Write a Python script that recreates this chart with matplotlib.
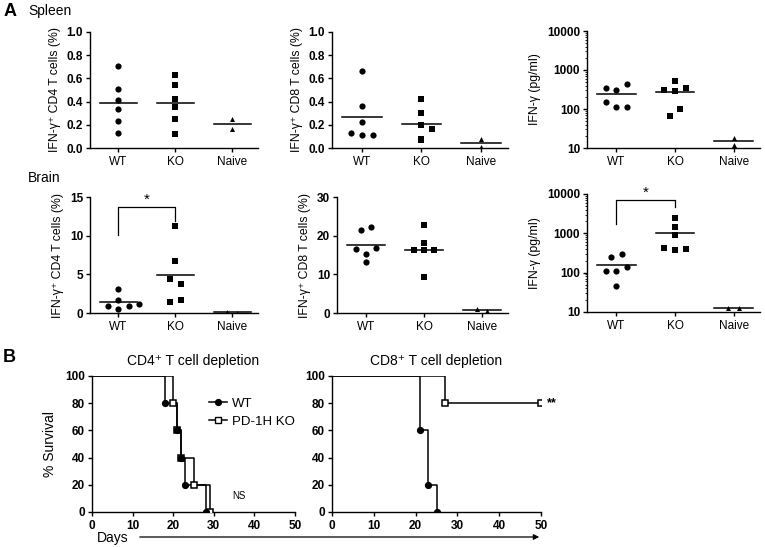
import numpy as np
import matplotlib
matplotlib.use("Agg")
import matplotlib.pyplot as plt
from matplotlib.lines import Line2D

plt.rcParams['font.family'] = ['Liberation Sans', 'DejaVu Sans']

groups = ["WT", "KO", "Naive"]

# panel A, spleen
spleen_cd4 = [[0.71, 0.51, 0.41, 0.34, 0.23, 0.13],
              [0.63, 0.54, 0.42, 0.35, 0.25, 0.12],
              [0.25, 0.16]]
spleen_cd4_mean = [0.39, 0.385, 0.21]
spleen_cd8 = [[0.66, 0.36, 0.22, 0.13, 0.11, 0.11],
              [0.42, 0.30, 0.20, 0.16, 0.08, 0.07],
              [0.08, 0.01]]
spleen_cd8_mean = [0.265, 0.205, 0.045]
spleen_ifn = [[352, 301, 446, 154, 110, 110],
              [313, 523, 295, 345, 98, 67],
              [18, 12]]
spleen_ifn_mean = [243, 276, 15.4]

# panel A, brain
brain_cd4 = [[3.1, 1.73, 0.95, 0.52, 0.95, 1.13],
             [11.2, 6.76, 4.42, 3.77, 1.39, 1.65],
             [0.1, 0.05]]
brain_cd4_mean = [1.39, 4.85, 0.1]
brain_cd8 = [[21.5, 22.2, 16.5, 15.3, 16.9, 13.1],
             [22.7, 18.1, 16.2, 16.2, 16.4, 9.4],
             [1.0, 0.6]]
brain_cd8_mean = [17.6, 16.4, 0.8]
brain_ifn = [[243, 295, 138, 111, 111, 47],
             [2490, 1440, 900, 428, 388, 404],
             [12.9, 12.9]]
brain_ifn_mean = [158, 1012, 12.9]

# horizontal spread of the dots (category units)
jit_spleen_cd4 = [[0, 0, 0, 0, 0, 0], [0, 0, 0, 0, 0, 0], [0, 0]]
jit_spleen_cd8 = [[0, 0, 0, -0.18, 0, 0.18], [0, 0, 0, 0.18, 0, 0], [0, 0]]
jit_spleen_ifn = [[-0.18, 0, 0.18, -0.18, 0, 0.18], [-0.18, 0, 0, 0.18, 0.09, -0.09], [0, 0]]
jit_brain_cd4 = [[0, 0, -0.18, 0, 0.18, 0.36], [0, 0, -0.09, 0.09, -0.09, 0.09], [-0.09, 0.09]]
jit_brain_cd8 = [[-0.09, 0.09, -0.18, 0, 0.18, 0], [0, 0, -0.18, 0, 0.18, 0], [-0.09, 0.09]]
jit_brain_ifn = [[-0.09, 0.09, 0.18, -0.18, 0, 0], [0, 0, 0, -0.18, 0, 0.18], [-0.09, 0.09]]

# panel B, survival
cd4_wt_days = [0, 18, 21, 22, 23, 28]
cd4_wt_surv = [100, 80, 60, 40, 20, 0]
cd4_ko_days = [0, 20, 21, 22, 25, 29]
cd4_ko_surv = [100, 80, 60, 40, 20, 0]
cd8_wt_days = [0, 21, 23, 25]
cd8_wt_surv = [100, 60, 20, 0]
cd8_ko_days = [0, 27, 50]
cd8_ko_surv = [100, 80, 80]

W, H = 765, 547
fig = plt.figure(figsize=(W / 100, H / 100), dpi=100)


def add_ax(left, top, right, bottom):
    return fig.add_axes([left / W, 1 - bottom / H, (right - left) / W, (bottom - top) / H])


def style(ax):
    for s in ["top", "right"]:
        ax.spines[s].set_visible(False)
    for s in ["left", "bottom"]:
        ax.spines[s].set_linewidth(1.0)
    ax.tick_params(axis="y", labelsize=8.5, width=1, length=3, pad=2)
    ax.tick_params(axis="x", labelsize=8.5, width=1, length=3, pad=3)
    for t in ax.get_yticklabels():
        t.set_fontweight("bold")


markers = ["o", "s", "^"]


def dot_panel(ax, vals, means, jit, ylabel, log=False):
    for i, (v, m, j) in enumerate(zip(vals, means, jit)):
        ms = 20 if i < 2 else 13
        ax.scatter(np.array(j) + i, v, marker=markers[i], s=ms, color="black",
                   linewidths=0, zorder=3)
        ax.plot([i - 0.33, i + 0.33], [m, m], color="black", lw=1.1, zorder=2)
    ax.set_xticks(range(3))
    ax.set_xticklabels(groups)
    ax.set_xlim(-0.5, 2.45)
    ax.set_ylabel(ylabel, fontsize=8.8, labelpad=4)
    if log:
        ax.set_yscale("log")
        ax.set_ylim(10, 10000)
        ax.set_yticks([10, 100, 1000, 10000])
        ax.set_yticklabels(["10", "100", "1000", "10000"])
        ax.tick_params(axis="y", which="minor", length=1.5, width=0.6)
    style(ax)


ax1 = add_ax(90, 32, 258, 148)
dot_panel(ax1, spleen_cd4, spleen_cd4_mean, jit_spleen_cd4, "IFN-γ⁺ CD4 T cells (%)")
ax1.set_ylim(0, 1.0)
ax1.set_yticks(np.arange(0, 1.01, 0.2))
ax1.set_yticklabels(["0.0", "0.2", "0.4", "0.6", "0.8", "1.0"], fontweight="bold")

ax2 = add_ax(332, 32, 508, 148)
dot_panel(ax2, spleen_cd8, spleen_cd8_mean, jit_spleen_cd8, "IFN-γ⁺ CD8 T cells (%)")
ax2.set_ylim(0, 1.0)
ax2.set_yticks(np.arange(0, 1.01, 0.2))
ax2.set_yticklabels(["0.0", "0.2", "0.4", "0.6", "0.8", "1.0"], fontweight="bold")

ax3 = add_ax(587, 31, 760, 148)
dot_panel(ax3, spleen_ifn, spleen_ifn_mean, jit_spleen_ifn, "IFN-γ (pg/ml)", log=True)
for t in ax3.get_yticklabels():
    t.set_fontweight("bold")

ax4 = add_ax(90, 197, 258, 313)
dot_panel(ax4, brain_cd4, brain_cd4_mean, jit_brain_cd4, "IFN-γ⁺ CD4 T cells (%)")
ax4.set_ylim(0, 15)
ax4.set_yticks([0, 5, 10, 15])
ax4.set_yticklabels(["0", "5", "10", "15"], fontweight="bold")
ax4.plot([0, 0, 1, 1], [10.05, 13.65, 13.65, 11.9], color="black", lw=0.9)
ax4.text(0.5, 13.75, "*", ha="center", va="bottom", fontsize=11)

ax5 = add_ax(337, 197, 508, 313)
dot_panel(ax5, brain_cd8, brain_cd8_mean, jit_brain_cd8, "IFN-γ⁺ CD8 T cells (%)")
ax5.set_ylim(0, 30)
ax5.set_yticks([0, 10, 20, 30])
ax5.set_yticklabels(["0", "10", "20", "30"], fontweight="bold")

ax6 = add_ax(587, 194, 760, 312)
dot_panel(ax6, brain_ifn, brain_ifn_mean, jit_brain_ifn, "IFN-γ (pg/ml)", log=True)
for t in ax6.get_yticklabels():
    t.set_fontweight("bold")
ax6.plot([0, 0, 1, 1], [1680, 7080, 7080, 4570], color="black", lw=0.9)
ax6.text(0.5, 7300, "*", ha="center", va="bottom", fontsize=11)

fig.text(4 / W, 1 - 12 / H, "A", fontsize=13, fontweight="bold", va="center")
fig.text(28 / W, 1 - 11 / H, "Spleen", fontsize=10, va="center")
fig.text(28 / W, 1 - 178 / H, "Brain", fontsize=10, va="center")
fig.text(3 / W, 1 - 357 / H, "B", fontsize=13, fontweight="bold", va="center")


def surv_panel(ax, wd, ws, kd, ks, title):
    ax.step(wd, ws, where="post", color="black", lw=1.1, zorder=2)
    ax.step(kd, ks, where="post", color="black", lw=1.1, zorder=2)
    ax.plot(kd[1:], ks[1:], "s", mfc="white", mec="black", mew=1.1, ms=5, zorder=3)
    ax.plot(wd[1:], ws[1:], "o", color="black", ms=4.2, zorder=4)
    ax.set_xlim(0, 50)
    ax.set_ylim(0, 100)
    ax.set_xticks(range(0, 51, 10))
    ax.set_yticks(range(0, 101, 20))
    style(ax)
    ax.tick_params(axis="x", labelsize=8.5)
    for t in ax.get_xticklabels() + ax.get_yticklabels():
        t.set_fontweight("bold")
    ax.set_title(title, fontsize=10, pad=8)


ax7 = add_ax(92, 376, 295, 512)
surv_panel(ax7, cd4_wt_days, cd4_wt_surv, cd4_ko_days, cd4_ko_surv, "CD4⁺ T cell depletion")
ax7.set_ylabel("% Survival", fontsize=10, labelpad=6)
ax7.text(34.5, 12, "NS", fontsize=7, va="center")
handles = [Line2D([], [], color="black", marker="o", ms=4.2, lw=1.1),
           Line2D([], [], color="black", marker="s", mfc="white", ms=5, lw=1.1)]
ax7.legend(handles, ["WT", "PD-1H KO"], loc="upper left", bbox_to_anchor=(0.52, 0.93),
           frameon=False, fontsize=9.5, handlelength=1.3, handletextpad=0.4, labelspacing=0.45)

ax8 = add_ax(332, 376, 541, 512)
surv_panel(ax8, cd8_wt_days, cd8_wt_surv, cd8_ko_days, cd8_ko_surv, "CD8⁺ T cell depletion")
ax8.text(51.5, 80, "**", fontsize=9, va="center", fontweight="bold")

fig.text(97 / W, 1 - 538 / H, "Days", fontsize=10, va="center")
fig.add_artist(matplotlib.patches.FancyArrowPatch(
    (137 / W, 1 - 537 / H), (542 / W, 1 - 537 / H), transform=fig.transFigure,
    arrowstyle="-|>", mutation_scale=8, color="black", lw=0.9))

fig.savefig("out.png", dpi=100)
